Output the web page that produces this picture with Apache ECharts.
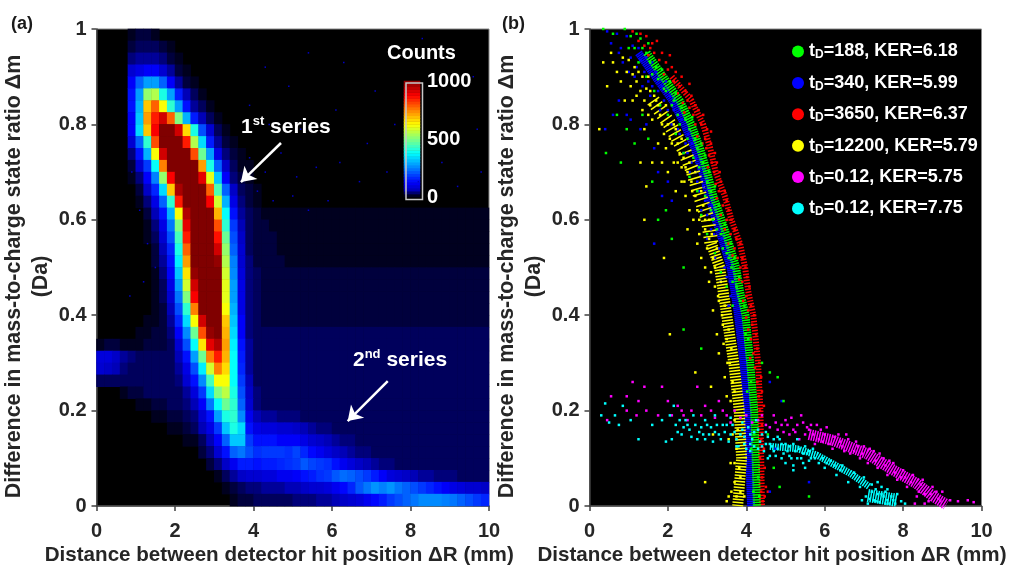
<!DOCTYPE html>
<html>
<head>
<meta charset="utf-8">
<style>html,body{margin:0;background:#fff}#main{width:1009px;height:567px}</style>
<script src="https://cdn.jsdelivr.net/npm/echarts@6/dist/echarts.min.js"></script>
</head>
<body>
<div id="main"></div>
<script>
// tick labels
const xTicks = [0, 2, 4, 6, 8, 10];
const yTicks = [0, 0.2, 0.4, 0.6, 0.8, 1];
const colorbarTicks = [0, 500, 1000];

// panel (a): counts / 10, rows top to bottom (dm .9875 to .0125 in .025 steps),
// columns left to right (dR .1 to 9.9 in .2 steps). cells past the end of a row use heatTail
const heatRows = [
[0,0,0,0,1,2,2,1],
[0,0,0,0,2,3,3,3,2,1],
[0,0,0,0,4,5,5,5,4,2,1],
[0,0,0,0,8,10,12,12,8,5,2,1],
[0,0,0,0,12,22,28,28,22,12,5,2,1],
[0,0,0,0,14,28,52,55,40,28,15,6,3,1],
[0,0,0,0,14,30,68,78,62,42,28,14,5,3,1],
[0,0,0,0,12,32,72,85,92,78,50,30,15,6,3,1],
[0,0,0,0,12,34,68,88,100,100,92,66,40,20,8,3,1],
[0,0,0,0,8,22,42,80,100,100,100,85,55,34,15,5,2,1],
[0,0,0,0,4,14,30,62,92,100,100,100,80,48,28,10,4,2,1],
[0,0,0,0,2,8,18,38,75,100,100,100,100,72,40,22,7,3,1,1],
[0,0,0,0,1,4,12,25,52,88,100,100,100,90,60,32,12,4,2,1],
[0,0,0,0,0,2,7,16,34,68,96,100,100,100,78,45,22,7,3,2,1],
[0,0,0,0,0,1,4,10,22,42,85,100,100,100,88,58,30,10,4,2,1],
[0,0,0,0,0,0,2,6,14,30,62,95,100,100,100,70,38,14,5,3,2,1,1],
[0,0,0,0,0,0,1,4,10,24,50,90,100,100,100,80,42,18,6,3,2,2,1],
[0,0,0,0,0,0,1,3,8,20,44,85,100,100,100,86,48,20,7,3,2,2,2,1],
[0,0,0,0,0,0,0,2,6,16,40,78,100,100,100,92,52,22,8,3,2,2,2,1],
[0,0,0,0,0,0,0,2,5,14,36,72,100,100,100,98,55,25,8,4,2,2,2,2],
[0,0,0,0,0,0,0,1,4,12,32,65,98,100,100,100,58,26,9,4,3],
[0,0,0,0,0,0,0,1,3,10,28,58,92,100,100,100,60,28,10,4,3],
[0,0,0,0,0,0,0,1,3,8,24,50,88,100,100,100,60,28,10,4,3],
[0,0,0,0,0,0,0,1,2,6,20,42,75,100,100,100,62,30,10,4,3],
[0,0,0,0,0,0,1,1,2,5,16,34,62,92,100,100,68,32,12,4,3],
[0,0,0,0,0,1,1,2,2,4,12,26,48,80,98,100,70,34,12,4,3],
[1,2,2,1,1,1,2,2,2,3,8,20,38,65,90,95,72,36,14,5,3],
[9,9,7,5,4,3,3,3,3,3,6,14,28,48,75,85,70,38,15,5,3],
[8,7,6,4,3,3,3,3,3,3,5,10,20,36,58,75,66,38,16,5,3],
[3,3,3,3,3,3,3,3,3,3,4,8,14,26,44,62,62,38,18,6,3],
[0,0,0,1,2,2,3,3,3,3,3,5,9,18,34,50,56,40,20,7,4],
[0,0,0,0,0,1,1,2,2,3,3,4,6,12,24,38,48,42,22,8,4],
[0,0,0,0,0,0,0,1,1,2,2,3,4,8,14,28,40,42,26,11,6,5,5,4,4,4,3,3],
[0,0,0,0,0,0,0,0,0,1,1,2,3,6,10,18,32,40,34,14,10,9,9,8,8,7,6,5,4,4,3],
[0,0,0,0,0,0,0,0,0,0,0,1,1,3,6,12,22,32,32,18,14,14,14,12,12,12,10,8,7,6,5,4,4,3],
[0,0,0,0,0,0,0,0,0,0,0,0,0,2,4,8,14,22,24,20,17,18,18,18,17,19,16,13,11,9,7,6,5,4,4],
[0,0,0,0,0,0,0,0,0,0,0,0,0,0,2,4,7,11,15,15,14,15,15,16,17,18,21,19,18,17,14,11,9,7,6,5,4,4],
[0,0,0,0,0,0,0,0,0,0,0,0,0,0,0,1,3,5,7,8,8,9,9,11,11,12,14,15,17,18,21,23,22,20,18,15,12,9,8,7,6,5,5,4,4,4],
[0,0,0,0,0,0,0,0,0,0,0,0,0,0,0,0,1,2,3,4,4,5,5,5,6,6,7,8,8,9,11,13,16,21,24,27,25,27,24,22,20,18,16,14,12,10,9,8,8,7],
[0,0,0,0,0,0,0,0,0,0,0,0,0,0,0,0,0,1,2,2,3,3,3,3,3,4,4,4,5,5,6,7,8,9,11,13,15,18,20,22,24,26,26,26,25,24,22,20,18,16]
];
const heatTail = [0,0,0,0,0,0,0,0,0,0,0,0,0,0,0,1,1,1,1,1,2,2,2,2,2,3,3,3,3,3,3,3,3,3,3,3,3,3,3,3];
const strayDots = [[4.3,.92],[4.9,.88],[5.4,.95],[6.3,.93],[7.1,.87],[8.3,.98],[9.6,.9],[3.9,.84],[4.4,.8],[5.2,.79],[6.1,.83],[6.9,.76],[7.6,.8],[8.8,.72],[9.7,.79],[3.9,.73],[4.3,.7],[4.7,.74],[5.1,.69],[5.6,.71],[6.2,.72],[6.7,.68],[7.4,.7],[8.2,.68],[9.2,.67],[9.8,.7],[4.1,.66],[4.5,.64],[5,.65],[5.4,.62],[5.9,.64],[.9,.7],[1.1,.62],[1.3,.55],[1.5,.5],[1.2,.47],[.85,.44]];
const colorbarLevels = [12,37,62,87,112,137,162,187,212,237,262,287,312,337,362,387,412,437,462,487,512,537,562,587,612,637,662,687,712,737,762,787,812,837,862,887,912,937,962,987];
const jetColors = ['#000000','#0000bf','#0000ff','#0040ff','#0080ff','#00bfff','#00ffff','#40ffbf','#80ff80','#bfff40','#ffff00','#ffbf00','#ff8000','#ff4000','#ff0000','#bf0000','#800000'];

// panel (b): [dR, dm], dense middle of each band
const redCore = [[2.1,.9],[2.6,.85],[2.9,.8],[3.08,.75],[3.22,.7],[3.45,.65],[3.62,.6],[3.84,.55],[3.97,.5],[4.05,.45],[4.18,.4],[4.3,.3],[4.36,.2],[4.38,.1],[4.4,0]];
const blueCore = [[1.25,.95],[1.68,.9],[2.12,.85],[2.42,.8],[2.68,.75],[2.88,.7],[3.05,.65],[3.22,.6],[3.42,.55],[3.6,.5],[3.7,.45],[3.79,.4],[3.93,.3],[4.03,.2],[4.08,.1],[4.12,0]];
const greenCore = [[1.46,.95],[1.88,.9],[2.3,.85],[2.6,.8],[2.82,.75],[3,.7],[3.16,.65],[3.37,.6],[3.56,.55],[3.74,.5],[3.84,.45],[3.98,.4],[4.1,.3],[4.2,.2],[4.24,.1],[4.27,0]];
const yellowUpper = [[1.62,.85],[2.05,.8],[2.39,.75],[2.64,.7],[2.82,.65],[3.02,.6],[3.11,.55]];
const yellowCore = [[3.11,.55],[3.32,.5],[3.41,.45],[3.5,.4],[3.68,.3],[3.82,.2],[3.88,.1],[3.78,0]];
const magentaCore = [[5.6,.15],[6.2,.138],[7.07,.11],[7.73,.076],[8.33,.048],[8.77,.02],[9.1,.003]];
const cyanCore = [[4.6,.125],[5.3,.12],[5.79,.107],[6.64,.069],[7.15,.04]];
const cyanBlob = [[7.1,.022],[7.85,.012]];

const redDots = [[1.1,.995],[1.3,.99],[1.45,.985],[1.6,.97],[1.72,.975],[1.55,.96],[1.85,.95],[2.05,.945],[1.95,.93],[2.1,.92],[2.2,.91],[2.35,.9],[2.3,.88],[2.45,.87],[2.6,.86],[2.55,.885],[2.5,.85],[2.7,.84],[2.78,.83],[2.65,.82],[2.9,.82],[2.85,.8],[3,.79],[3.1,.785],[2.95,.77],[3.1,.76],[3.2,.74],[3.05,.735],[3.25,.72],[3.32,.7],[3.18,.7],[3.35,.68],[3.3,.66],[3.45,.66],[3.5,.64],[3.4,.63],[3.55,.62],[3.62,.6],[3.5,.6],[3.7,.58],[3.6,.57],[3.75,.56],[3.85,.55],[3.7,.54],[3.9,.52],[3.98,.5],[3.85,.5],[4.02,.48],[3.9,.47],[4.08,.46],[4,.44],[4.12,.42],[4.05,.41],[4.2,.4],[4.15,.38],[4.25,.36],[4.12,.35],[4.28,.33],[4.18,.32],[4.33,.3],[4.22,.29],[4.38,.27],[4.28,.26],[4.4,.24],[4.32,.23],[4.45,.21],[4.35,.2],[4.4,.17],[4.38,.14],[4.45,.12],[4.35,.1],[4.47,.08],[4.4,.06],[4.5,.04],[4.38,.03],[4.47,.02],[4.42,.01],[4.55,.03],[1.25,.975],[1.4,.965],[1.5,.945],[1.65,.95],[1.78,.935],[1.9,.905],[2,.915],[2.15,.89],[2.25,.865],[2.38,.845],[2.42,.825],[2.55,.835],[2.7,.8],[2.75,.775],[2.88,.76],[2.98,.75],[3.02,.71],[3.12,.72],[3.22,.675],[3.25,.645],[3.35,.61],[3.45,.58],[3.55,.55],[3.65,.525],[3.78,.52],[3.82,.475],[3.92,.43],[4,.395],[4.05,.37],[4.1,.31]];
const blueDots = [[.45,.995],[.55,.97],[.7,.99],[.8,.96],[.95,.985],[1.05,.94],[1.2,.92],[1.1,.965],[1.4,.91],[1.3,.935],[1.5,.89],[1.6,.93],[1.75,.87],[1.55,.86],[1.85,.88],[2,.83],[1.9,.85],[2.1,.8],[2.25,.82],[2.3,.78],[2.45,.76],[2.4,.74],[2.6,.72],[2.7,.7],[2.55,.7],[2.8,.66],[2.95,.64],[2.85,.62],[3.1,.58],[3,.56],[3.3,.54],[3.2,.52],[3.45,.5],[3.35,.47],[3.6,.44],[3.55,.42],[.4,.79],[.6,.82],[.75,.85],[.95,.82],[1.05,.81],[1.3,.79],[1.45,.8],[1.65,.75],[1.75,.7],[1.85,.65],[2,.68],[1.65,.55],[2.1,.64],[4.9,.22],[4.6,.26],[4.75,.12],[4.6,.03],[5.6,.05],[.85,.93],[.75,.95],[1,.91],[1.15,.9],[1.25,.96],[1.35,.88],[1.45,.94],[1.6,.88],[1.7,.91],[1.8,.83],[1.95,.89],[2.05,.86],[2.15,.83],[2.25,.79],[2.35,.81],[2.5,.74],[2.52,.78],[2.62,.76],[2.72,.73],[2.75,.68],[2.9,.67],[2.98,.68],[3,.61],[3.12,.63],[3.18,.57],[3.28,.58],[3.38,.56],[3.5,.48],[3.58,.47]];
const greenDots = [[.35,1],[.6,.99],[.9,1],[1.2,.99],[1,.96],[1.35,.96],[1.25,.93],[1.55,.93],[1.45,.9],[1.7,.92],[1.65,.87],[1.95,.87],[1.8,.84],[2.15,.85],[2,.82],[2.3,.8],[2.2,.78],[2.5,.77],[2.4,.74],[2.65,.73],[2.55,.69],[2.8,.71],[2.75,.66],[2.95,.65],[2.85,.61],[3.1,.62],[3,.57],[3.25,.58],[3.2,.53],[3.4,.54],[3.35,.49],[3.55,.52],[3.5,.46],[3.65,.47],[3.65,.42],[.42,.74],[.8,.72],[.7,.82],[.95,.79],[1.15,.76],[1.35,.82],[1.5,.77],[1.6,.68],[1.75,.6],[1.95,.62],[2.1,.56],[2.4,.5],[2.4,.37],[2.85,.33],[4.6,.28],[4.8,.27],[4.4,.3],[4.95,.22],[4.7,.08],[4.85,.04],[5.6,.02],[4.55,.15],[1.05,.985],[1.15,.96],[1.3,.98],[1.45,.95],[1.5,.97],[1.6,.905],[1.75,.895],[1.85,.915],[1.9,.875],[2.05,.89],[2.1,.84],[2.2,.865],[2.25,.82],[2.35,.835],[2.45,.81],[2.55,.79],[2.62,.815],[2.7,.77],[2.75,.75],[2.85,.76],[2.9,.72],[2.95,.735],[3,.68],[3.05,.7],[3.1,.66],[3.2,.67],[3.15,.6],[3.3,.63],[3.35,.57],[3.45,.59],[3.5,.53],[3.6,.55],[3.62,.5],[3.7,.52],[3.75,.46],[3.82,.48],[3.85,.43],[3.95,.42],[3.98,.36],[4.05,.35],[4.12,.26],[4.02,.24],[4.2,.15],[4.12,.12],[4.3,.06],[4.18,.03],[4.33,.02]];
const yellowDots = [[.55,.95],[.35,.93],[.25,.79],[.45,.88],[.6,.93],[.7,.91],[.8,.89],[.85,.94],[.95,.91],[1.05,.88],[1.15,.92],[1.2,.89],[1.3,.87],[1.1,.85],[.9,.85],[1.4,.85],[1.5,.9],[1.55,.84],[1.7,.85],[1.6,.81],[1.4,.79],[1.8,.82],[1.9,.78],[2,.8],[1.75,.76],[2.1,.76],[2.2,.79],[2.3,.74],[2.15,.72],[2.4,.73],[2,.7],[1.85,.72],[2.5,.7],[2.35,.68],[2.6,.68],[2.45,.65],[2.7,.65],[2.2,.66],[2.55,.62],[2.8,.6],[2.65,.6],[2.9,.63],[2.5,.58],[2.95,.58],[2.75,.55],[3.05,.56],[2.85,.52],[3.15,.52],[2.95,.5],[3.25,.54],[3.05,.47],[3.2,.46],[3.3,.43],[3.15,.41],[3.4,.38],[3.25,.36],[3.5,.35],[3.3,.32],[3.58,.3],[3.45,.27],[3.65,.26],[3.5,.23],[3.7,.18],[3.55,.14],[3.75,.12],[3.6,.09],[3.7,.05],[3.55,.02],[3.85,.03],[3.5,.01],[3.95,.02],[2.05,.36],[2.7,.28],[3.1,.25],[3.15,.15],[2.95,.05],[1.4,.6],[1.3,.72],[1.45,.67],[1.6,.72],[1.9,.52],[1,.935],[1.1,.905],[1.25,.91],[1.35,.9],[1.45,.875],[1.2,.86],[1.55,.87],[1.65,.86],[1.35,.83],[1.75,.84],[1.5,.82],[1.85,.8],[1.95,.84],[2.05,.77],[2.15,.8],[1.95,.75],[2.25,.76],[2.35,.77],[2.25,.72],[2.45,.71],[2.35,.71],[2.55,.72],[2.42,.68],[2.62,.66],[2.7,.7],[2.75,.62],[2.85,.66],[2.95,.6],[3.05,.6],[2.8,.57],[3,.54],[3.12,.57],[3.2,.5],[3.1,.49],[3.35,.47],[3.28,.44],[3.45,.42],[3.38,.4],[3.55,.37],[3.42,.34],[3.62,.33],[3.52,.3],[3.7,.24],[3.6,.22],[3.78,.16],[3.65,.15],[3.82,.08],[3.7,.09],[3.85,.06],[3.62,.03],[3.75,.02]];
const magentaDots = [[.45,.18],[.55,.23],[.95,.2],[1.1,.26],[.95,.23],[1.25,.22],[1.2,.19],[1.4,.25],[1.45,.2],[1.75,.19],[1.85,.25],[2,.22],[2.25,.21],[2.4,.19],[2.6,.2],[2.75,.25],[2.95,.21],[3.1,.2],[3.3,.22],[3.5,.19],[3.7,.2],[4,.19],[4.3,.18],[4.5,.17],[4.7,.19],[4.8,.16],[5,.18],[5.1,.15],[5.3,.17],[5.4,.19],[5.5,.15],[5.65,.17],[5.75,.13],[5.9,.16],[5.95,.135],[6.05,.165],[6.2,.12],[6.35,.15],[6.45,.125],[6.55,.15],[6.65,.11],[6.8,.135],[6.9,.1],[7,.125],[7.1,.09],[7.25,.115],[7.35,.08],[7.5,.1],[7.6,.065],[7.75,.09],[7.85,.055],[8,.075],[8.1,.04],[8.25,.065],[8.4,.03],[8.5,.055],[8.65,.01],[8.75,.04],[8.9,.015],[9,.03],[9.2,.012],[9.4,.01],[9.65,.012],[9.8,.008],[4.9,.17],[5.2,.16],[5.35,.14],[5.55,.165],[5.7,.15],[5.85,.14],[6,.15],[6.1,.13],[6.25,.145],[6.4,.135],[6.5,.115],[6.6,.14],[6.75,.115],[6.85,.125],[6.95,.11],[7.15,.12],[7.3,.095],[7.4,.11],[7.55,.085],[7.65,.095],[7.8,.07],[7.95,.06],[8.05,.06],[8.2,.05],[8.35,.02],[8.45,.045],[8.55,.025],[8.7,.025],[8.85,.03],[8.95,.01],[8.55,.005],[8.3,.005],[2.1,.19],[2.35,.2],[2.5,.18],[2.85,.19],[3.2,.185],[3.4,.2],[3.6,.175],[3.85,.185],[4.15,.175],[4.4,.19],[4.6,.165],[4.75,.175],[4.95,.155],[5.05,.17],[5.15,.185],[5.25,.155],[5.45,.175],[5.6,.16],[5.8,.17]];
const cyanDots = [[.3,.19],[.4,.215],[.5,.175],[.65,.19],[.75,.17],[.85,.21],[1.25,.14],[1.05,.18],[1.6,.17],[1.85,.18],[1.95,.135],[2.1,.14],[2.05,.19],[2.2,.17],[2.15,.21],[2.35,.15],[2.45,.18],[2.55,.16],[2.65,.19],[2.75,.14],[2.85,.165],[2.95,.18],[3.05,.15],[3.15,.135],[3.25,.17],[3.35,.14],[3.45,.155],[3.55,.135],[3.65,.17],[3.75,.14],[3.85,.15],[3.95,.13],[4.05,.165],[4.15,.14],[4.25,.18],[4.3,.12],[4.4,.15],[4.5,.13],[4.6,.105],[4.7,.14],[4.8,.12],[4.9,.13],[5,.09],[5.05,.115],[5.2,.085],[5.3,.14],[5.4,.1],[5.5,.125],[5.6,.095],[5.7,.12],[5.85,.09],[6,.08],[6.15,.095],[6.3,.065],[6.45,.085],[6.6,.05],[6.75,.07],[6.9,.04],[7,.06],[7.05,.02],[7.1,.005],[7.2,.03],[7.3,.01],[7.35,.05],[7.45,.025],[7.55,.005],[7.6,.035],[7.7,.02],[7.8,.005],[7.85,.025],[7.95,.01],[6.95,.012],[8.05,.005],[2.25,.155],[2.5,.17],[2.6,.145],[2.9,.15],[3,.17],[3.2,.155],[3.4,.17],[3.6,.15],[3.8,.125],[3.9,.16],[4.1,.13],[4.2,.155],[4.35,.135],[4.45,.115],[4.55,.145],[4.65,.125],[4.75,.105],[4.85,.14],[4.95,.11],[5.1,.125],[5.15,.1],[5.25,.115],[5.35,.12],[5.45,.11],[5.55,.11],[5.65,.1],[5.75,.1],[5.95,.1],[6.05,.09],[6.25,.085],[6.4,.075],[7.15,.015],[7.25,.012],[7.35,.025],[7.4,.008],[7.5,.02],[7.6,.012],[7.65,.005],[7.75,.012],[7.2,.045],[7.3,.035],[7.45,.04],[7.55,.03],[2.3,.18],[2.4,.165],[2.7,.17],[2.8,.155],[3.1,.165],[3.3,.15],[3.5,.17],[3.7,.155],[3.75,.125],[3.95,.145],[4,.12],[4.1,.15],[4.2,.125],[4.3,.16],[4.4,.125],[4.5,.155],[4.6,.13],[4.7,.115],[4.8,.145],[4.9,.1],[5,.13],[5.1,.105],[5.2,.13],[5.3,.1],[5.45,.09],[5.6,.115],[5.2,.075],[5.5,.08],[4.1,.115],[4.55,.1],[3.9,.175],[3.6,.185],[3.2,.19],[2.95,.14]];

const legendItems = ['tD=188, KER=6.18','tD=340, KER=5.99','tD=3650, KER=6.37','tD=12200, KER=5.79','tD=0.12, KER=5.75','tD=0.12, KER=7.75'];

const fontName = '"Liberation Sans", Arial, sans-serif';
const tickColor = '#262626';

function valueAxis(grid, ticks, pos, name) {
    const isY = pos === 'left';
    return {
        type: 'value', gridIndex: grid, min: 0, max: ticks[ticks.length - 1], interval: ticks[1],
        position: pos, name: name, nameLocation: 'middle', nameRotate: isY ? 90 : 0,
        nameGap: isY ? 31 : 36, nameMoveOverlap: isY,
        nameTextStyle: { color: tickColor, fontFamily: fontName, fontWeight: 'bold', fontSize: isY ? 21.4 : 20.6, lineHeight: 27, padding: isY ? [0, 18, 0, 0] : [0, 27, 0, 0] },
        axisLine: { show: true, onZero: false, lineStyle: { color: '#404040', width: 1.5 } },
        axisTick: { show: true, length: 5, lineStyle: { color: '#404040', width: 1.5 } },
        axisLabel: { color: tickColor, fontFamily: fontName, fontWeight: 'bold', fontSize: 20, margin: isY ? 10 : 15, showMinLabel: true, showMaxLabel: true, hideOverlap: false },
        splitLine: { show: false }
    };
}

function hiddenCategory(grid, count) {
    return { type: 'category', gridIndex: grid, show: false, data: Array.from({ length: count }, (_, i) => i) };
}

const heatData = [];
heatRows.forEach((row, r) => {
    for (let c = 0; c < 50; c++) {
        const v = c < row.length ? row[c] : heatTail[r];
        if (v > 0) heatData.push([c, heatRows.length - 1 - r, v * 10]);
    }
});

function core(name, data, color, width, dash) {
    return { name: name, type: 'line', xAxisIndex: 2, yAxisIndex: 3, data: data, symbol: 'none', silent: true, z: 3,
        lineStyle: { color: color, width: width, cap: 'butt', type: dash } };
}
function dots(name, data, color) {
    return { name: name, type: 'scatter', xAxisIndex: 2, yAxisIndex: 3, data: data, symbol: 'rect', symbolSize: 2.5,
        itemStyle: { color: color, opacity: 1 }, z: 4, silent: true };
}

const panelGrid = { top: 29, height: 477, show: true, backgroundColor: '#000', borderColor: '#888', borderWidth: 1, outerBoundsMode: 'none' };
const option = {
    animation: false,
    backgroundColor: '#fff',
    grid: [
        Object.assign({ left: 96.5, width: 392.5 }, panelGrid),
        Object.assign({ left: 589.5, width: 392 }, panelGrid),
        { left: 404, top: 81, width: 16, height: 116, show: false, outerBoundsMode: 'none' }
    ],
    xAxis: [
        valueAxis(0, xTicks, 'bottom', 'Distance between detector hit position ΔR (mm)'),
        hiddenCategory(0, 50),
        valueAxis(1, xTicks, 'bottom', 'Distance between detector hit position ΔR (mm)'),
        hiddenCategory(2, 1)
    ],
    yAxis: [
        valueAxis(0, yTicks, 'left', 'Difference in mass-to-charge state ratio Δm\n(Da)'),
        hiddenCategory(0, heatRows.length),
        hiddenCategory(2, colorbarLevels.length),
        valueAxis(1, yTicks, 'left', 'Difference in mass-to-charge state ratio Δm\n(Da)'),
        {
            type: 'value', gridIndex: 2, min: 0, max: 1000, interval: colorbarTicks[1], position: 'right',
            axisLine: { show: false },
            axisTick: { show: true, inside: true, length: 4, customValues: [500], lineStyle: { color: '#fff' } },
            axisLabel: { color: '#fff', fontFamily: fontName, fontWeight: 'bold', fontSize: 20, margin: 7, padding: [5, 0, 0, 0], formatter: v => String(v) },
            splitLine: { show: false }
        }
    ],
    visualMap: { show: false, type: 'continuous', min: 0, max: 1000, dimension: 2, seriesIndex: [0, 1], inRange: { color: jetColors } },
    legend: {
        data: legendItems, orient: 'vertical', left: 787, top: 37, itemWidth: 12, itemHeight: 12, itemGap: 12.4,
        icon: 'circle', selectedMode: false,
        formatter: n => '{t|t}{d|D}{t|' + n.slice(2) + '}',
        textStyle: {
            color: '#fff', fontFamily: fontName, fontWeight: 'bold', fontSize: 18,
            rich: {
                t: { color: '#fff', fontFamily: fontName, fontWeight: 'bold', fontSize: 18, lineHeight: 19 },
                d: { color: '#fff', fontFamily: fontName, fontWeight: 'bold', fontSize: 12, lineHeight: 19, verticalAlign: 'bottom', padding: [7, 0, 0, 0] }
            }
        }
    },
    graphic: [
        { type: 'text', left: 11, top: 15, style: { text: '(a)', fill: '#1a1a1a', font: 'bold 18px ' + fontName } },
        { type: 'text', left: 502, top: 15, style: { text: '(b)', fill: '#1a1a1a', font: 'bold 18px ' + fontName } },
        { type: 'text', left: 387, top: 43, z: 10, style: { text: 'Counts', fill: '#fff', font: 'bold 20px ' + fontName } },
        { type: 'text', left: 241, top: 115, z: 10, style: { text: '{a|1}{s|st}{a| series}', fill: '#fff', rich: {
            a: { fill: '#fff', font: 'bold 21px ' + fontName, lineHeight: 24 },
            s: { fill: '#fff', font: 'bold 13px ' + fontName, lineHeight: 24, verticalAlign: 'top', padding: [0, 0, 8, 0] } } } },
        { type: 'text', left: 353, top: 348, z: 10, style: { text: '{a|2}{s|nd}{a| series}', fill: '#fff', rich: {
            a: { fill: '#fff', font: 'bold 21px ' + fontName, lineHeight: 24 },
            s: { fill: '#fff', font: 'bold 13px ' + fontName, lineHeight: 24, verticalAlign: 'top', padding: [0, 0, 8, 0] } } } },
        { type: 'rect', left: 403.5, top: 80.5, z: 10, shape: { width: 16.5, height: 116.5 }, style: { fill: 'none', stroke: '#c8c8c8', lineWidth: 1.5 } }
    ],
    series: [
        { type: 'heatmap', xAxisIndex: 1, yAxisIndex: 1, data: heatData, silent: true, progressive: 0 },
        { type: 'heatmap', xAxisIndex: 3, yAxisIndex: 2, data: colorbarLevels.map((v, i) => [0, i, v]), silent: true, progressive: 0 },
        {
            type: 'scatter', xAxisIndex: 0, yAxisIndex: 0, data: strayDots, symbol: 'rect', symbolSize: 1.5,
            itemStyle: { color: '#0000c8', opacity: 1 }, silent: true, z: 4,
            markLine: {
                silent: true, symbol: ['none', 'arrow'], symbolSize: 14, animation: false, label: { show: false },
                lineStyle: { color: '#fff', width: 2.5, type: 'solid' },
                data: [
                    [{ coord: [4.7, 0.761] }, { coord: [3.68, 0.679] }],
                    [{ coord: [7.42, 0.262] }, { coord: [6.4, 0.178] }]
                ]
            }
        },
        core('red core', redCore, '#ff0000', 6, [1.5, 1.5]),
        dots(legendItems[2], redDots, '#ff0000'),
        core('blue core', blueCore, '#0000ff', 8, [1.5, 0.5]),
        dots(legendItems[1], blueDots, '#0000ff'),
        core('green core', greenCore, '#00ff00', 8, [1.5, 1]),
        dots(legendItems[0], greenDots, '#00ff00'),
        core('yellow upper', yellowUpper, '#ffff00', 14, [1.5, 4]),
        core('yellow core', yellowCore, '#ffff00', 11, [1.5, 1.5]),
        dots(legendItems[3], yellowDots, '#ffff00'),
        core('magenta core', magentaCore, '#ff00ff', 11, [1.5, 1]),
        dots(legendItems[4], magentaDots, '#ff00ff'),
        core('cyan core', cyanCore, '#00ffff', 7, [1.5, 1]),
        core('cyan blob', cyanBlob, '#00ffff', 13, [1.5, 1]),
        dots(legendItems[5], cyanDots, '#00ffff')
    ]
};

const chart = echarts.init(document.getElementById('main'), null, { renderer: 'canvas' });
chart.setOption(option);
</script>
</body>
</html>
